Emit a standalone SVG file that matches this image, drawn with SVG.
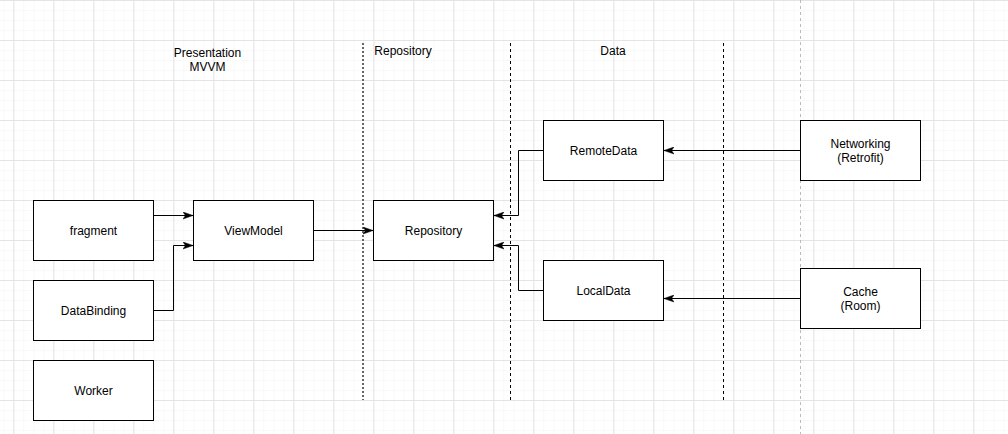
<svg xmlns="http://www.w3.org/2000/svg" width="1008" height="434" viewBox="0 0 1008 434">
<style>
.box{fill:#fff;stroke:#000;stroke-width:1}
.lbl{font-family:"Liberation Sans",Arial,sans-serif;font-size:12px;fill:#000;text-anchor:middle;dominant-baseline:central}
.edge{fill:none;stroke:#000;stroke-width:1}
</style>
<defs>
<pattern id="minor" width="10" height="10" patternUnits="userSpaceOnUse" x="3.33" y="0">
<path d="M0,0 H10 M0,0 V10" fill="none" stroke="#f3f3f3" stroke-width="1"/>
</pattern>
<pattern id="major" width="40" height="40" patternUnits="userSpaceOnUse" x="13.33" y="0">
<path d="M0,0.5 H40 M0.5,0 V40" fill="none" stroke="#e4e4e4" stroke-width="1"/>
</pattern>
<marker id="arr" markerWidth="10" markerHeight="8" refX="10" refY="4" orient="auto" markerUnits="userSpaceOnUse">
<path d="M0,0.5 L10,4 L0,7.5 L2.5,4 z" fill="#000" stroke="#000" stroke-width="0.5"/>
</marker>
</defs>
<rect width="1008" height="434" fill="#fff"/>
<rect width="1008" height="434" fill="url(#minor)"/>
<rect width="1008" height="434" fill="url(#major)"/>

<g id="dividers">
<line x1="363" y1="43" x2="363" y2="400" stroke="#666" stroke-width="2" stroke-dasharray="2 2"/>
<line x1="510.5" y1="43" x2="510.5" y2="400" stroke="#000" stroke-width="1" stroke-dasharray="3 3"/>
<line x1="723.5" y1="43" x2="723.5" y2="400" stroke="#000" stroke-width="1" stroke-dasharray="3 3"/>
<line x1="800.5" y1="0" x2="800.5" y2="434" stroke="#bbb" stroke-width="1" stroke-dasharray="3 3"/>
</g>

<g id="section-labels">
<text class="lbl" x="207.5" y="53">Presentation</text>
<text class="lbl" x="207.5" y="67">MVVM</text>
<text class="lbl" x="403" y="50.5">Repository</text>
<text class="lbl" x="613" y="50.5">Data</text>
</g>

<g id="connectors">
<path class="edge" d="M153.5,215.5 H193" marker-end="url(#arr)"/>
<path class="edge" d="M153.5,310.5 H173.5 V245.5 H193" marker-end="url(#arr)"/>
<path class="edge" d="M313.5,230.5 H373" marker-end="url(#arr)"/>
<path class="edge" d="M543.5,150.5 H518.5 V215.5 H494" marker-end="url(#arr)"/>
<path class="edge" d="M543.5,290.5 H518.5 V245.5 H494" marker-end="url(#arr)"/>
<path class="edge" d="M800.5,150.5 H664" marker-end="url(#arr)"/>
<path class="edge" d="M800.5,298.5 H664" marker-end="url(#arr)"/>
</g>

<g id="fragment"><rect class="box" x="33.5" y="200.5" width="120" height="60"/><text class="lbl" x="93.5" y="230.5">fragment</text></g>
<g id="databinding"><rect class="box" x="33.5" y="280.5" width="120" height="60"/><text class="lbl" x="93.5" y="310.5">DataBinding</text></g>
<g id="worker"><rect class="box" x="33.5" y="360.5" width="120" height="60"/><text class="lbl" x="93.5" y="390.5">Worker</text></g>
<g id="viewmodel"><rect class="box" x="193.5" y="200.5" width="120" height="60"/><text class="lbl" x="253.5" y="230.5">ViewModel</text></g>
<g id="repository"><rect class="box" x="373.5" y="200.5" width="120" height="60"/><text class="lbl" x="433.5" y="230.5">Repository</text></g>
<g id="remotedata"><rect class="box" x="543.5" y="120.5" width="120" height="60"/><text class="lbl" x="603.5" y="150.5">RemoteData</text></g>
<g id="localdata"><rect class="box" x="543.5" y="260.5" width="120" height="60"/><text class="lbl" x="603.5" y="290.5">LocalData</text></g>
<g id="networking"><rect class="box" x="800.5" y="120.5" width="120" height="60"/><text class="lbl" x="860.5" y="144">Networking</text><text class="lbl" x="860.5" y="158">(Retrofit)</text></g>
<g id="cache"><rect class="box" x="800.5" y="268.5" width="120" height="60"/><text class="lbl" x="860.5" y="292">Cache</text><text class="lbl" x="860.5" y="306">(Room)</text></g>
</svg>
